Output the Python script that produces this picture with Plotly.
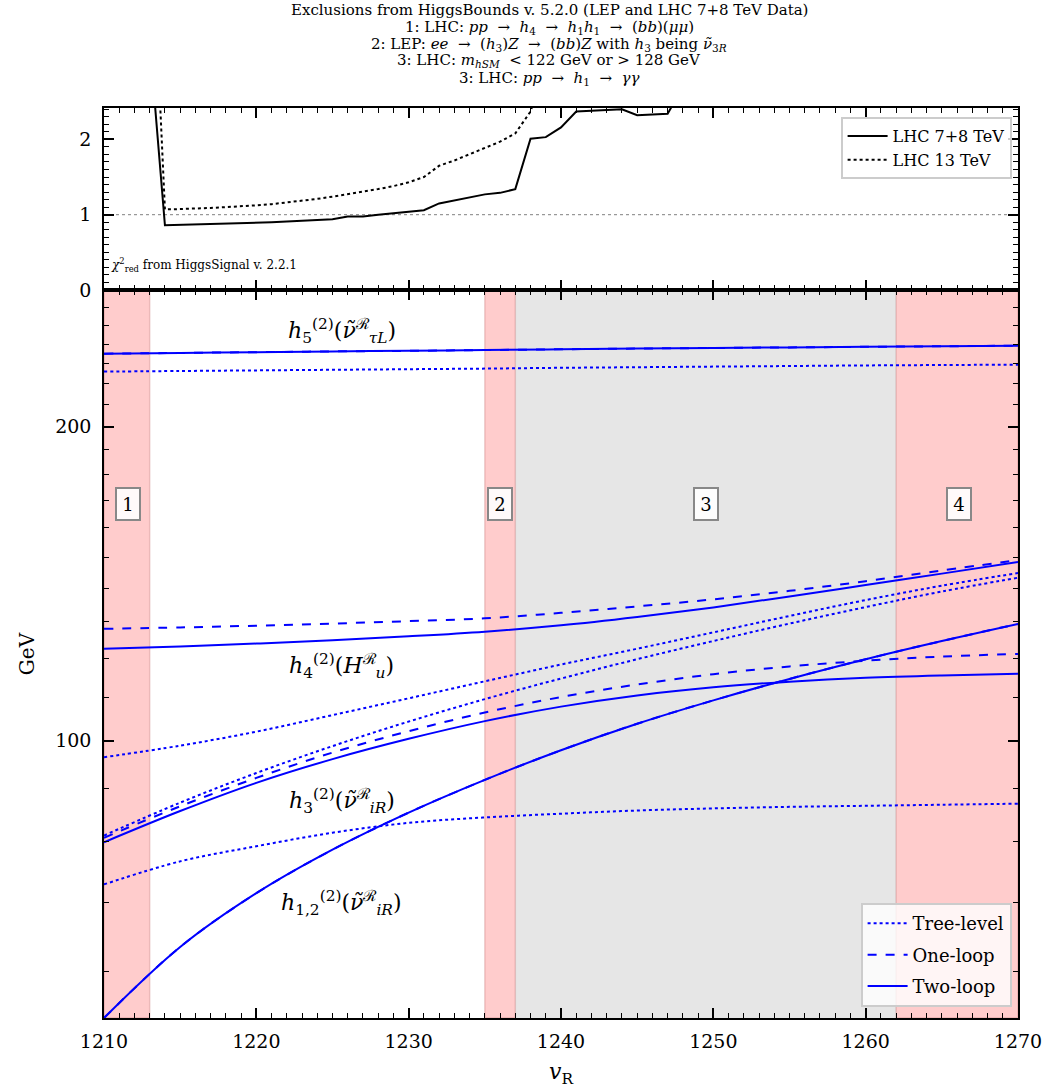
import math
import plotly.graph_objects as go

# ---------------- data ----------------
vR = [1210, 1215, 1220, 1225, 1230, 1235, 1240, 1245, 1250, 1255, 1260, 1265, 1270]

h5_tree  = [225.9, 226.2, 226.5, 226.8, 227.1, 227.4, 227.8, 228.1, 228.4, 228.7, 229.0, 229.2, 229.4]
h5_1loop = [235.0, 235.4, 235.8, 236.2, 236.5, 236.9, 237.3, 237.7, 238.0, 238.3, 238.6, 238.9, 239.2]
h5_2loop = [235.0, 235.4, 235.8, 236.2, 236.5, 236.9, 237.3, 237.7, 238.0, 238.3, 238.6, 238.9, 239.2]

h4_tree  = [96.4, 98.9, 102.0, 105.8, 109.8, 114.0, 118.3, 122.5, 127.0, 131.7, 136.4, 140.8, 144.8]
h4_1loop = [128.0, 128.4, 128.9, 129.5, 130.2, 131.0, 132.6, 134.5, 136.6, 139.2, 142.2, 145.6, 149.0]
h4_2loop = [122.5, 123.1, 123.9, 124.8, 125.9, 127.2, 129.0, 131.4, 134.2, 137.5, 141.0, 144.6, 148.4]

h3_tree  = [81.1, 87.2, 93.1, 98.8, 104.3, 109.6, 114.7, 119.7, 124.6, 129.5, 134.3, 139.0, 143.3]
h3_1loop = [80.7, 86.5, 92.1, 97.4, 102.1, 106.4, 110.1, 113.2, 115.8, 117.8, 119.3, 120.4, 121.1]
h3_2loop = [79.9, 85.6, 91.1, 96.0, 100.4, 104.4, 107.8, 110.5, 112.5, 113.9, 114.9, 115.5, 115.9]

h12_tree  = [72.8, 76.6, 79.2, 81.6, 83.4, 84.4, 85.1, 85.7, 86.1, 86.4, 86.6, 86.8, 87.0]
h12_1loop = [54.2, 63.4, 71.4, 78.6, 85.3, 91.7, 97.9, 103.8, 109.3, 114.6, 119.7, 124.6, 129.4]
h12_2loop = [54.2, 63.4, 71.4, 78.6, 85.3, 91.7, 97.9, 103.8, 109.3, 114.6, 119.7, 124.6, 129.4]

# HiggsSignals reduced chi^2
vR_hs = list(range(1210, 1271))
chi_lhc8 = [4.0, 4.0, 3.8, 3.3, 0.86, 0.865, 0.87, 0.875, 0.88, 0.885, 0.89, 0.90, 0.91, 0.92, 0.93,
            0.94, 0.975, 0.975, 1.0, 1.02, 1.04, 1.06, 1.15, 1.19, 1.23, 1.27, 1.29, 1.34, 2.01, 2.03,
            2.16, 2.37, 2.38, 2.39, 2.40, 2.32, 2.33, 2.34, 2.7, 2.8, 2.8, 2.9, 2.9, 2.9, 3.0, 3.0,
            3.0, 3.0, 3.0, 3.0, 3.0, 3.0, 3.0, 3.0, 3.0, 3.0, 3.0, 3.0, 3.0, 3.0, 3.0]
chi_lhc13 = [6.0, 6.0, 6.0, 5.5, 1.07, 1.075, 1.08, 1.09, 1.10, 1.11, 1.125, 1.14, 1.16, 1.185, 1.21,
             1.24, 1.27, 1.30, 1.34, 1.38, 1.43, 1.50, 1.65, 1.72, 1.80, 1.88, 1.97, 2.08, 2.37, 3.0,
             3.2, 3.4, 3.5, 3.6, 3.6, 3.6, 3.6, 3.6, 3.6, 3.6, 3.6, 3.6, 3.6, 3.6, 3.6, 3.6,
             3.6, 3.6, 3.6, 3.6, 3.6, 3.6, 3.6, 3.6, 3.6, 3.6, 3.6, 3.6, 3.6, 3.6, 3.6]

excl_red = [(1210, 1213), (1235, 1237), (1262, 1270)]
excl_gray = [(1237, 1262)]
sm_window = (122, 128)

box_labels = ["1", "2", "3", "4"]
box_x = [1211.6, 1236.0, 1249.5, 1266.1]

AR = "&nbsp;→&nbsp;"
title_lines = [
    "Exclusions from HiggsBounds v. 5.2.0 (LEP and LHC 7+8 TeV Data)",
    f"1: LHC: <i>pp</i> {AR} <i>h</i><sub>4</sub> {AR} <i>h</i><sub>1</sub><i>h</i><sub>1</sub> {AR} (<i>bb</i>)(<i>μμ</i>)",
    f"2: LEP: <i>ee</i> {AR} (<i>h</i><sub>3</sub>)<i>Z</i> {AR} (<i>bb</i>)<i>Z</i> with <i>h</i><sub>3</sub> being <i>ν̃</i><sub>3<i>R</i></sub>",
    "3: LHC: <i>m</i><sub><i>hSM</i></sub> &nbsp;&lt; 122 GeV or &gt; 128 GeV",
    f"3: LHC: <i>pp</i> {AR} <i>h</i><sub>1</sub> {AR} <i>γγ</i>",
]

# ---------------- figure ----------------
FONT = "DejaVu Serif"
BLUE = "#0000ff"
W, H = 1057, 1088
ML, MR, MT, MB = 104, 39, 108, 70
PLOT_H = H - MT - MB


def paper_y(px):
    return (H - MB - px) / PLOT_H


def paper_x(px):
    return (px - ML) / (W - ML - MR)


fig = go.Figure()

styles = [("Tree-level", "dot"), ("One-loop", "dash"), ("Two-loop", "solid")]
groups = [
    (h5_tree, h5_1loop, h5_2loop),
    (h4_tree, h4_1loop, h4_2loop),
    (h3_tree, h3_1loop, h3_2loop),
    (h12_tree, h12_1loop, h12_2loop),
]
for gi, grp in enumerate(groups):
    for (name, dash), ys in zip(styles, grp):
        fig.add_trace(go.Scatter(
            x=vR, y=ys, mode="lines", name=name,
            line=dict(color=BLUE, width=2, dash=dash, shape="spline"),
            showlegend=(gi == 0), legendgroup=name, xaxis="x", yaxis="y", legend="legend"))

fig.add_trace(go.Scatter(x=vR_hs, y=chi_lhc8, mode="lines", name="LHC 7+8 TeV",
                         line=dict(color="black", width=2), xaxis="x2", yaxis="y2", legend="legend2"))
fig.add_trace(go.Scatter(x=vR_hs, y=chi_lhc13, mode="lines", name="LHC 13 TeV",
                         line=dict(color="black", width=2, dash="dot"), xaxis="x2", yaxis="y2", legend="legend2"))

shapes = []
for (a, b) in excl_red:
    shapes.append(dict(type="rect", xref="x", yref="y domain", x0=a, x1=b, y0=0, y1=1,
                       fillcolor="rgba(255,0,0,0.2)", line=dict(color="rgba(200,120,120,0.35)", width=1.5),
                       layer="below"))
for (a, b) in excl_gray:
    shapes.append(dict(type="rect", xref="x", yref="y domain", x0=a, x1=b, y0=0, y1=1,
                       fillcolor="rgba(128,128,128,0.2)", line=dict(width=0),
                       layer="below"))
shapes.append(dict(type="rect", xref="x domain", yref="y", x0=0, x1=1,
                   y0=math.log10(sm_window[0]), y1=math.log10(sm_window[1]),
                   fillcolor="rgba(0,128,0,0.17)", line=dict(width=0), layer="below"))
shapes.append(dict(type="line", xref="x2 domain", yref="y2", x0=0, x1=1, y0=1, y1=1,
                   line=dict(color="gray", width=1, dash="dot"), layer="below"))

annotations = []
lab_font = dict(family=FONT, size=22, color="black")
labels = [
    ("<i>h</i><sub>5</sub><sup>(2)</sup>(<i>ν̃</i><sup>ℛ</sup><sub><i>τL</i></sub>)", 1225.6, 247),
    ("<i>h</i><sub>4</sub><sup>(2)</sup>(<i>H</i><sup>ℛ</sup><sub><i>u</i></sub>)", 1225.6, 118),
    ("<i>h</i><sub>3</sub><sup>(2)</sup>(<i>ν̃</i><sup>ℛ</sup><sub><i>iR</i></sub>)", 1225.6, 87.6),
    ("<i>h</i><sub>1,2</sub><sup>(2)</sup>(<i>ν̃</i><sup>ℛ</sup><sub><i>iR</i></sub>)", 1225.6, 69.8),
]
for t, xx, yy in labels:
    annotations.append(dict(text=t, x=xx, y=math.log10(yy), xref="x", yref="y", showarrow=False,
                            font=lab_font, xanchor="center", yanchor="middle"))
for t, xx in zip(box_labels, box_x):
    annotations.append(dict(text=t, x=xx, y=math.log10(168.7), xref="x", yref="y", showarrow=False,
                            font=dict(family=FONT, size=18, color="black"),
                            width=14, height=22,
                            bgcolor="rgba(255,255,255,0.9)", bordercolor="#888888", borderwidth=2,
                            borderpad=4))
annotations.append(dict(text="<i>χ</i><sup>2</sup><sub>red</sub> from HiggsSignal v. 2.2.1",
                        x=0.005, y=0.14, xref="x2 domain", yref="y2 domain", showarrow=False,
                        xanchor="left", yanchor="middle", font=dict(family=FONT, size=12, color="black")))

title_centers = [10, 27, 44, 61, 79]
for t, cy in zip(title_lines, title_centers):
    annotations.append(dict(text=t, x=paper_x(549), y=paper_y(cy), xref="paper", yref="paper",
                            xanchor="center", yanchor="middle", showarrow=False,
                            font=dict(family=FONT, size=15, color="black")))

axis_common = dict(showline=True, linecolor="black", linewidth=1.5, mirror="allticks",
                   ticks="inside", ticklen=10, tickwidth=1.5, tickcolor="black",
                   showgrid=False, zeroline=False, automargin=False,
                   tickfont=dict(family=FONT, size=19, color="black"))

minor_log = [60, 70, 80, 90, 110, 120, 130, 140, 150, 160, 170, 180, 190, 210, 220, 230, 240, 250, 260]

fig.update_layout(
    width=W, height=H,
    margin=dict(l=ML, r=MR, t=MT, b=MB, autoexpand=False),
    plot_bgcolor="white", paper_bgcolor="white",
    xaxis=dict(domain=[0, 1], anchor="y", range=[1210, 1270], tick0=1210, dtick=10,
               ticklabelstandoff=5,
               minor=dict(ticks="inside", dtick=1, ticklen=5, tickwidth=1, tickcolor="black"),
               title=dict(text="<i>v</i><sub>R</sub>", font=dict(family=FONT, size=22, color="black"),
                          standoff=14),
               **axis_common),
    xaxis2=dict(domain=[0, 1], anchor="y2", matches="x", range=[1210, 1270], tick0=1210, dtick=10,
                showticklabels=False,
                minor=dict(ticks="inside", dtick=1, ticklen=5, tickwidth=1, tickcolor="black"),
                **axis_common),
    yaxis=dict(domain=[0, 0.8], anchor="x", type="log",
               range=[math.log10(54.2), math.log10(270.5)],
               tickmode="array", tickvals=[100, 200], ticktext=["100", "200"],
               ticklabelstandoff=7,
               minor=dict(ticks="inside", tickmode="array", tickvals=minor_log, ticklen=5,
                          tickwidth=1, tickcolor="black"),
               title=dict(text="GeV", font=dict(family=FONT, size=20, color="black"), standoff=15),
               **axis_common),
    yaxis2=dict(domain=[0.8, 1], anchor="x2", range=[0, 2.417], tick0=0, dtick=1,
                ticklabelstandoff=7,
                minor=dict(ticks="inside", dtick=0.1, ticklen=5, tickwidth=1, tickcolor="black"),
                **axis_common),
    legend=dict(x=0.993, y=0.012, xanchor="right", yanchor="bottom",
                bgcolor="rgba(255,255,255,0.8)", bordercolor="#cccccc", borderwidth=2,
                font=dict(family=FONT, size=18, color="black"), tracegroupgap=5, itemwidth=40),
    legend2=dict(x=0.993, y=0.99, xanchor="right", yanchor="top",
                 bgcolor="rgba(255,255,255,0.8)", bordercolor="#cccccc", borderwidth=2,
                 font=dict(family=FONT, size=16, color="black"), itemwidth=40),
    shapes=shapes,
    annotations=annotations,
)

post = ("document.documentElement.style.margin='0';"
        "document.documentElement.style.overflow='hidden';"
        "document.body.style.margin='0';"
        "document.body.style.overflow='hidden';"
        "document.body.style.height='" + str(H) + "px';"
        "window.scrollTo(0,0);")
fig.write_html("out.html", post_script=post, config={"displayModeBar": False})
